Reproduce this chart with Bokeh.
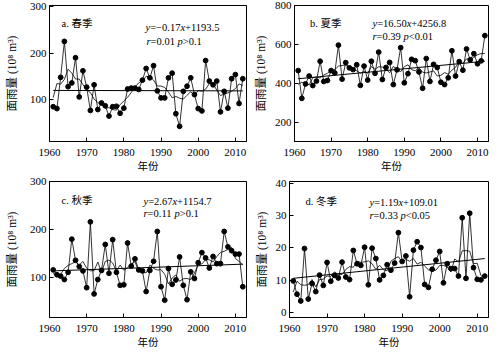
import numpy as np
from bokeh.plotting import figure
from bokeh.models import Label, Range1d, FixedTicker
from bokeh.layouts import column, row
from bokeh.embed import file_html
from bokeh.resources import INLINE

# ---------------- data ----------------
years = list(range(1961, 2013))
spring = [85, 81, 148, 225, 128, 136, 190, 106, 162, 127,
          77, 132, 79, 93, 87, 65, 85, 86, 71, 82,
          123, 125, 125, 122, 142, 167, 147, 173, 119, 104,
          104, 147, 157, 70, 43, 118, 129, 147, 111, 81,
          76, 184, 140, 132, 140, 74, 118, 82, 145, 154,
          92, 145]
summer = [465, 322, 396, 437, 388, 411, 513, 409, 414, 465,
          453, 596, 421, 506, 479, 470, 495, 389, 488, 416,
          513, 451, 560, 419, 481, 507, 393, 469, 583, 402,
          449, 523, 516, 458, 374, 527, 409, 497, 481, 405,
          393, 428, 567, 437, 511, 467, 576, 520, 552, 500,
          515, 645]
autumn = [116, 106, 103, 96, 111, 180, 136, 123, 114, 79,
          216, 66, 96, 115, 169, 109, 179, 111, 84, 85,
          172, 124, 139, 116, 114, 71, 115, 134, 196, 81,
          53, 119, 86, 95, 143, 84, 54, 112, 98, 131,
          152, 141, 120, 144, 129, 129, 196, 164, 156, 149,
          149, 81]
winter = [9.8, 5.7, 3.6, 19.8, 4.2, 9.0, 6.5, 11.6, 8.4, 15.5,
          9.7, 11.5, 10.7, 15.6, 11.0, 10.2, 19.2, 15.1, 14.6, 20.2,
          8.6, 19.9, 16.7, 10.1, 11.5, 14.8, 13.1, 15.3, 24.7, 15.8,
          17.5, 4.9, 19.3, 21.9, 20.1, 8.7, 7.8, 13.4, 16.2, 18.9,
          9.2, 15.1, 13.6, 13.6, 11.3, 29.3, 10.6, 30.7, 13.9, 10.3,
          10.1, 11.3]

trend_years = [1961, 2012]
spring_trend = [120, 119]
summer_trend = [423, 513]
autumn_trend = [114, 128]
winter_trend = [10.6, 16.7]

x_ticks = [1960, 1970, 1980, 1990, 2000, 2010]
spring_yticks = [100, 200, 300]
summer_yticks = [200, 400, 600, 800]
autumn_yticks = [100, 200, 300]
winter_yticks = [0, 10, 20, 30, 40]

titles = ["a. 春季", "b. 夏季", "c. 秋季", "d. 冬季"]
equations = [
    [("y", True), ("=−0.17", False), ("x", True), ("+1193.5", False)],
    [("y", True), ("=16.50", False), ("x", True), ("+4256.8", False)],
    [("y", True), ("=2.67", False), ("x", True), ("+1154.7", False)],
    [("y", True), ("=1.19", False), ("x", True), ("+109.01", False)],
]
stats = [
    [("r", True), ("=0.01 ", False), ("p", True), (">0.1", False)],
    [("r", True), ("=0.39 ", False), ("p", True), ("<0.01", False)],
    [("r", True), ("=0.11 ", False), ("p", True), (">0.1", False)],
    [("r", True), ("=0.33 ", False), ("p", True), ("<0.05", False)],
]
x_label = "年份"
y_label = "面雨量 (10⁸ m³)"

# ---------------- styling ----------------
SERIF = "'Liberation Serif', 'Noto Sans CJK SC'"
FS = "10.5px"
FS_PX = 10.5

W_REG = {c: 0.5 for c in "0123456789"}
W_REG.update({".": 0.25, "=": 0.564, "+": 0.564, "−": 0.564, "<": 0.564, ">": 0.564, " ": 0.25})
W_IT = {"y": 0.444, "x": 0.444, "r": 0.389, "p": 0.5}


def seg_width(text, italic):
    table = W_IT if italic else W_REG
    return sum(table.get(ch, 0.5) for ch in text) * FS_PX


def running_mean(vals, k=5):
    v = np.asarray(vals, dtype=float)
    h = k // 2
    out = []
    for i in range(len(v)):
        lo, hi = max(0, i - h), min(len(v), i + h + 1)
        out.append(v[lo:hi].mean())
    return out


def make_panel(vals, trend, yr, yticks, geom, title, eq, st, text_pos, ylab_standoff):
    w, h, bl, br, bt, bb = geom
    p = figure(width=w, height=h, x_range=Range1d(1960, 2013), y_range=Range1d(*yr),
               output_backend="svg", toolbar_location=None,
               min_border_left=bl, min_border_right=br, min_border_top=bt, min_border_bottom=bb)
    p.xgrid.visible = False
    p.ygrid.visible = False
    p.outline_line_color = "black"
    p.outline_line_width = 1
    p.background_fill_color = "white"
    p.border_fill_color = "white"

    for ax in (p.xaxis[0], p.yaxis[0]):
        ax.major_tick_in = 4
        ax.major_tick_out = 0
        ax.minor_tick_line_color = None
        ax.axis_line_color = "black"
        ax.major_tick_line_color = "black"
        ax.major_label_text_font = SERIF
        ax.major_label_text_font_size = "11px"
        ax.major_label_text_color = "black"
        ax.axis_label_text_font = SERIF
        ax.axis_label_text_font_style = "normal"
        ax.axis_label_text_color = "black"
    p.xaxis.axis_label_text_font_size = "10.5px"
    p.yaxis.axis_label_text_font_size = "11.5px"
    p.xaxis.ticker = FixedTicker(ticks=x_ticks)
    p.yaxis.ticker = FixedTicker(ticks=yticks)
    p.xaxis.major_label_standoff = 7
    p.xaxis.axis_label_standoff = 2
    p.yaxis.major_label_standoff = 3
    p.yaxis.axis_label_standoff = ylab_standoff
    p.xaxis.axis_label = x_label
    p.yaxis.axis_label = y_label

    smooth = running_mean(vals)
    p.line(years, vals, line_color="black", line_width=0.8)
    p.line(years, smooth, line_color="black", line_width=0.8)
    p.line(trend_years, trend, line_color="black", line_width=1.0)
    p.scatter(years, vals, size=4.8, color="black")

    # helper: pixel inside figure -> data coords
    fw = w - bl - br
    fh = h - bt - bb

    def to_data(px, py):
        dx = 1960 + (px - bl) / fw * (2013 - 1960)
        dy = yr[1] - (py - bt) / fh * (yr[1] - yr[0])
        return dx, dy

    (tx, ty), (ex, ey), (sx, sy) = text_pos
    x, y = to_data(tx, ty)
    p.add_layout(Label(x=x, y=y, text=title, text_font=SERIF, text_font_size=FS,
                       text_baseline="middle", text_align="left", text_color="black"))
    for segs, (px, py) in ((eq, (ex, ey)), (st, (sx, sy))):
        x, y = to_data(px, py)
        off = 0.0
        for txt, it in segs:
            p.add_layout(Label(x=x, y=y, x_offset=off, text=txt, text_font=SERIF, text_font_size=FS,
                               text_font_style="italic" if it else "normal",
                               text_baseline="middle", text_align="left", text_color="black"))
            off += seg_width(txt, it)
    return p


pa = make_panel(spring, spring_trend, (10.5, 302), spring_yticks,
                (251, 175, 49, 5, 5, 34), titles[0], equations[0], stats[0],
                ((61, 23), (145, 27), (146, 41)), 9)
pb = make_panel(summer, summer_trend, (100, 800), summer_yticks,
                (252, 175, 38, 15, 5, 34), titles[1], equations[1], stats[1],
                ((54, 23), (118, 23), (118, 36)), 5)
pc = make_panel(autumn, autumn_trend, (17, 300), autumn_yticks,
                (251, 179, 49, 5, 6, 37), titles[2], equations[2], stats[2],
                ((61, 25), (143, 26), (143, 38)), 9)
pd = make_panel(winter, winter_trend, (-1.5, 40.5), winter_yticks,
                (252, 179, 38, 15, 6, 37), titles[3], equations[3], stats[3],
                ((54, 26), (118, 27), (118, 40)), 5)

layout = column(row(pa, pb), row(pc, pd))
open("out.html", "w").write(file_html(layout, INLINE))
